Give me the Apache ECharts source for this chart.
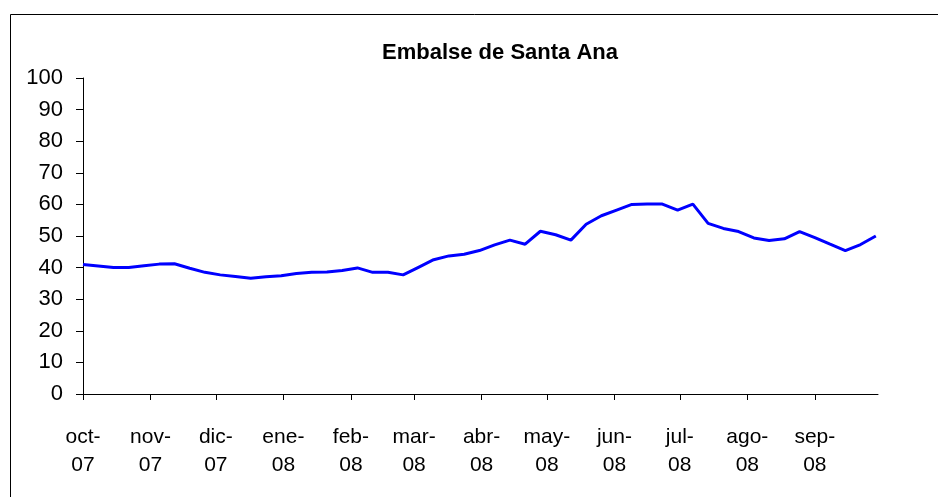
<!DOCTYPE html>
<html>
<head>
<meta charset="utf-8">
<script src="https://cdn.jsdelivr.net/npm/echarts@6/dist/echarts.min.js"></script>
<style>
  html, body { margin: 0; padding: 0; background: #fff; }
  #main { width: 938px; height: 497px; }
</style>
</head>
<body>
<div id="main"></div>
<script>
// fechas semanales (eje x)
var fechas = [
  '2007-10-01','2007-10-08','2007-10-15','2007-10-22','2007-10-29',
  '2007-11-05','2007-11-12','2007-11-19','2007-11-26','2007-12-03',
  '2007-12-10','2007-12-17','2007-12-24','2007-12-31','2008-01-07',
  '2008-01-14','2008-01-21','2008-01-28','2008-02-04','2008-02-11',
  '2008-02-18','2008-02-25','2008-03-03','2008-03-10','2008-03-17',
  '2008-03-24','2008-03-31','2008-04-07','2008-04-14','2008-04-21',
  '2008-04-28','2008-05-05','2008-05-12','2008-05-19','2008-05-26',
  '2008-06-02','2008-06-09','2008-06-16','2008-06-23','2008-06-30',
  '2008-07-07','2008-07-14','2008-07-21','2008-07-28','2008-08-04',
  '2008-08-11','2008-08-18','2008-08-25','2008-09-01','2008-09-08',
  '2008-09-15','2008-09-22','2008-09-29'
];

// % de llenado del embalse
var llenado = [
  41.0, 40.5, 40.0, 40.0, 40.6, 41.1, 41.2, 39.8, 38.5, 37.7,
  37.2, 36.6, 37.1, 37.4, 38.1, 38.5, 38.6, 39.1, 39.9, 38.5,
  38.5, 37.7, 40.1, 42.5, 43.7, 44.2, 45.4, 47.2, 48.7, 47.4,
  51.5, 50.4, 48.7, 53.7, 56.4, 58.2, 60.0, 60.1, 60.1, 58.2,
  60.1, 54.0, 52.4, 51.4, 49.4, 48.6, 49.1, 51.4, 49.5, 47.4,
  45.4, 47.3, 50.0
];

var meses = ['ene','feb','mar','abr','may','jun','jul','ago','sep','oct','nov','dic'];

var serie = [];
for (var i = 0; i < fechas.length; i++) {
  serie.push([fechas[i], llenado[i]]);
}

var myChart = echarts.init(document.getElementById('main'));

var option = {
  animation: false,
  backgroundColor: '#fff',
  textStyle: { fontFamily: 'Liberation Sans, Arial, sans-serif' },
  title: {
    text: 'Embalse de Santa Ana',
    left: 495,
    top: 37,
    textAlign: 'center',
    textStyle: { fontSize: 22, fontWeight: 'bold', color: '#000', fontFamily: 'Liberation Sans, Arial, sans-serif' }
  },
  graphic: [{
    type: 'rect',
    shape: { x: 10.5, y: 14.5, width: 1000, height: 1000 },
    style: { fill: null, stroke: '#000', lineWidth: 1 },
    silent: true
  }],
  grid: { left: 83, right: 60, top: 78, bottom: 103 },
  xAxis: {
    type: 'time',
    min: '2007-10-01',
    max: '2008-09-30',
    minInterval: 28 * 24 * 3600 * 1000,
    maxInterval: 31 * 24 * 3600 * 1000,
    splitLine: { show: false },
    axisLine: { lineStyle: { color: '#000', width: 1 } },
    axisTick: { show: true, length: 6, lineStyle: { color: '#000' } },
    axisLabel: {
      color: '#000',
      fontSize: 21,
      lineHeight: 28,
      margin: 29,
      hideOverlap: false,
      formatter: function (val) {
        var d = new Date(val);
        return meses[d.getMonth()] + '-\n' + String(d.getFullYear()).slice(2);
      }
    }
  },
  yAxis: {
    type: 'value',
    min: 0,
    max: 100,
    interval: 10,
    splitLine: { show: false },
    axisLine: { show: true, lineStyle: { color: '#000', width: 1 } },
    axisTick: { show: true, length: 7, lineStyle: { color: '#000' } },
    axisLabel: { color: '#000', fontSize: 22, margin: 20 }
  },
  series: [{
    type: 'line',
    data: serie,
    showSymbol: false,
    lineStyle: { color: '#0000ff', width: 3 },
    itemStyle: { color: '#0000ff' }
  }]
};

myChart.setOption(option);
</script>
</body>
</html>
